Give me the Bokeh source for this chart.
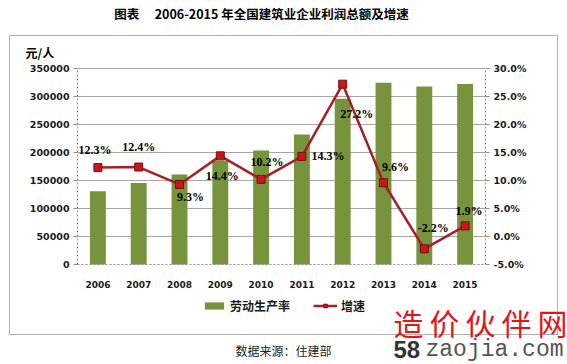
from bokeh.plotting import figure
from bokeh.models import (ColumnDataSource, Range1d, LinearAxis, Label, LabelSet,
                          Legend, LegendItem, FixedTicker, PrintfTickFormatter,
                          BasicTickFormatter, BoxAnnotation)
from bokeh.core.properties import value
from bokeh.embed import file_html
from bokeh.resources import INLINE

# ---- data ----
years = ["2006", "2007", "2008", "2009", "2010", "2011", "2012", "2013", "2014", "2015"]
productivity = [131000, 145500, 160500, 185500, 203500, 232000, 296000, 324500, 318000, 322500]
growth = [12.3, 12.4, 9.3, 14.4, 10.2, 14.3, 27.2, 9.6, -2.2, 1.9]
growth_labels = ["12.3%", "12.4%", "9.3%", "14.4%", "10.2%", "14.3%", "27.2%", "9.6%", "-2.2%", "1.9%"]
left_ticks = [0, 50000, 100000, 150000, 200000, 250000, 300000, 350000]
right_ticks = [-5, 0, 5, 10, 15, 20, 25, 30]

title_text = "图表\u3000 2006-2015 年全国建筑业企业利润总额及增速"
unit_text = "元/人"
bar_name = "劳动生产率"
line_name = "增速"
source_text = "数据来源：住建部"
mark_cn = "造\u2009价\u2009伙\u2009伴\u2009网"

# label offsets (style, px)
label_dx = [-3, 0, 11, 2, 6, 26, 14, 12, 9, 4]
label_dy = [18, 20, -13, -20, 17, 0, -30, 16, 21, 15]

BAR = "#77933C"
LINE = "#A52126"
MARK = "#C8161D"
GRID = "#A6A6A6"
AX = "#8C8C8C"

# ---- layout (pixels) ----
W, H = 567, 364
PL, PR, PT, PB = 77, 485, 68, 264     # plot area inside the canvas

n = len(years)
xi = list(range(n))
ppu = (PR - PL) / n
x_start = -0.5 - PL / ppu
x_end = n - 0.5 + (W - PR) / ppu
ymin, ymax = left_ticks[0], left_ticks[-1]
upp = (ymax - ymin) / (PB - PT)
pmin, pmax = right_ticks[0], right_ticks[-1]
upp2 = (pmax - pmin) / (PB - PT)

src = ColumnDataSource(dict(x=xi, year=years, prod=productivity, growth=growth,
                            lab=growth_labels, dx=label_dx, dy=label_dy))

p = figure(x_range=Range1d(x_start, x_end),
           y_range=Range1d(ymin - (H - PB) * upp, ymax + PT * upp),
           width=W, height=H, output_backend="svg", toolbar_location=None,
           min_border=0, min_border_left=0, min_border_right=0,
           min_border_top=0, min_border_bottom=0)
p.extra_y_ranges = {"pct": Range1d(pmin - (H - PB) * upp2, pmax + PT * upp2)}
p.outline_line_color = None
p.background_fill_color = "white"
p.border_fill_color = "white"
p.xgrid.visible = False
p.ygrid.visible = False

# grid lines across the plot area only
grid_y = left_ticks[1:]
p.segment(x0=[-0.5] * len(grid_y), x1=[n - 0.5] * len(grid_y), y0=grid_y, y1=grid_y,
          line_color=GRID, line_width=1)

bars = p.vbar(x="x", top="prod", width=0.39, source=src, fill_color=BAR, line_color=None)
ln = p.line(x="x", y="growth", source=src, y_range_name="pct", line_color=LINE, line_width=2.5)
mk = p.scatter(x="x", y="growth", source=src, y_range_name="pct", marker="square", size=8,
               fill_color=MARK, line_color="#7A0E12", line_width=1)

p.add_layout(LabelSet(x="x", y="growth", y_range_name="pct", text="lab", source=src,
                      x_offset="dx", y_offset="dy", text_align="center", text_baseline="middle",
                      text_font=value("Liberation Serif"), text_font_style="bold",
                      text_font_size="12px", text_color="black"))

# ---- axes (fixed at the plot area edges) ----
ya = p.yaxis[0]
ya.fixed_location = -0.5
ya.bounds = (ymin, ymax)
ya.ticker = FixedTicker(ticks=left_ticks)
ya.formatter = BasicTickFormatter(use_scientific=False)

right = LinearAxis(y_range_name="pct", ticker=FixedTicker(ticks=right_ticks),
                   formatter=PrintfTickFormatter(format="%.1f%%"),
                   fixed_location=n - 0.5, bounds=(pmin, pmax))
p.add_layout(right, "right")

for ax in [ya, right]:
    ax.axis_line_color = AX
    ax.axis_line_dash = "2 2"
    ax.major_tick_line_color = AX
    ax.major_tick_out = 4
    ax.major_tick_in = 0
    ax.minor_tick_line_color = None
    ax.major_label_standoff = 4
    ax.major_label_text_font = "DejaVu Sans"
    ax.major_label_text_font_style = "bold"
    ax.major_label_text_font_size = "9.5px"
    ax.major_label_text_color = "#1a1a1a"

xa = p.xaxis[0]
xa.fixed_location = ymin
xa.bounds = (-0.5, n - 0.5)
xa.ticker = FixedTicker(ticks=xi)
xa.major_label_overrides = {i: y for i, y in zip(xi, years)}
xa.axis_line_color = AX
xa.axis_line_dash = "2 2"
xa.major_tick_line_color = None
xa.minor_tick_line_color = None
xa.major_tick_out = 0
xa.major_tick_in = 0
xa.major_label_standoff = 16
xa.major_label_text_font = "DejaVu Sans"
xa.major_label_text_font_style = "bold"
xa.major_label_text_font_size = "9px"
xa.major_label_text_color = "#1a1a1a"

# ---- legend ----
legend = Legend(items=[LegendItem(label=bar_name, renderers=[bars]),
                       LegendItem(label=line_name, renderers=[ln, mk])],
                location=(202, 50), orientation="horizontal",
                glyph_width=24, glyph_height=9, label_height=9, label_standoff=4, spacing=23,
                padding=0, margin=0, border_line_color=None, background_fill_alpha=0,
                label_text_font="Noto Sans CJK SC", label_text_font_style="bold",
                label_text_font_size="12px", label_text_color="#1a1a1a")
p.add_layout(legend, "center")

# ---- frame box ----
p.add_layout(BoxAnnotation(left=9, right=557, top=H - 35, bottom=H - 334,
                           left_units="screen", right_units="screen",
                           top_units="screen", bottom_units="screen",
                           fill_alpha=0, line_color="black", line_width=1))

def lab(txt, x, y, font, size, style="normal", color="black", align="left"):
    p.add_layout(Label(x=x, y=H - y, x_units="screen", y_units="screen", text=txt,
                       text_font=font, text_font_size=size, text_font_style=style,
                       text_color=color, text_align=align, text_baseline="middle"))

lab(title_text, 261, 13, "Noto Sans CJK SC", "12.5px", "bold", align="center")
lab(unit_text, 25, 52, "Noto Sans CJK SC", "12px", "bold")
lab(source_text, 283, 350, "Noto Sans CJK SC", "12px", "normal", "#222222", "center")
lab(mark_cn, 393, 321, "Noto Sans CJK SC", "30px", "normal", "#E3161C")
lab("58", 393, 349, "Liberation Sans", "24px", "bold", "#333333")
lab("zaojia.com", 425, 349, "Liberation Mono", "23px", "normal", "#555555")

open("out.html", "w").write(file_html(p, INLINE))
